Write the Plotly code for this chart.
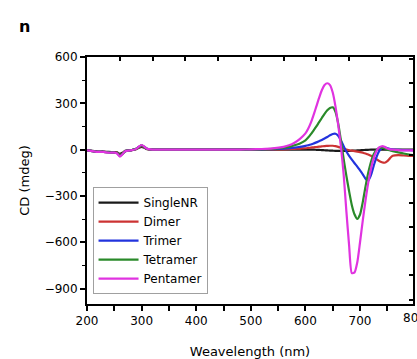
import plotly.graph_objects as go

# Wavelength grid (nm) shared by all spectra
wavelength = [200, 210, 220, 230, 240, 250, 255, 260, 265, 270, 280, 290, 295, 300, 305, 310, 320,
              340, 360, 380, 400, 420, 440, 460, 480, 500, 520, 540,
              560, 570, 580, 590,
              600, 605, 610, 615, 620, 625, 630, 635, 640, 645, 650, 655, 660, 665, 670, 675, 680,
              685, 690, 695, 700, 705, 710, 715, 720, 725, 730, 735, 740, 745, 750, 755, 760,
              770, 780, 790, 797]

# CD signal (mdeg) for each assembly
single_nr = [-3, -8, -12, -12, -15, -16, -18, -28, -20, -8, -4, 3, 12, 18, 12, 3, 0,
             0, 0, 0, 0, 0, 0, 0, 0, 0, 0, 0,
             0, 0, 0, 0,
             0, 0, 0, 0, -1, -2, -3, -4, -5, -6, -7, -8, -8, -8, -8, -8, -8,
             -7, -6, -5, -4, -3, -2, -1, 0, 0, 0, 0, 0, 0, 0, 0, 0,
             0, 0, 0, 0]
dimer = [-5, -10, -14, -14, -17, -19, -20, -35, -25, -10, -5, 4, 15, 22, 15, 4, 0,
         0, 0, 0, 0, 0, 0, 0, 0, 0, 1, 2,
         2, 3, 5, 7,
         9, 11, 13, 15, 17, 19, 21, 23, 24, 25, 25, 23, 18, 12, 6, 0, -4,
         -7, -10, -13, -16, -20, -25, -32, -40, -50, -62, -74, -82, -85, -75, -55, -40,
         -35, -38, -40, -40]
trimer = [-5, -10, -15, -15, -18, -20, -22, -38, -28, -10, -5, 5, 18, 26, 18, 5, 0,
          0, 0, 0, 0, 0, 0, 0, 0, 1, 2, 3,
          6, 9, 13, 18,
          24, 28, 33, 40, 47, 55, 63, 72, 82, 93, 101, 103, 90, 60, 22, -12, -40,
          -65, -88, -110, -135, -160, -188, -200, -165, -105, -50, -10, 10, 15, 10, 4, 0,
          -2, -3, -4, -5]
tetramer = [-5, -10, -15, -15, -18, -20, -22, -40, -28, -10, -5, 5, 18, 28, 18, 5, 0,
            0, 0, 0, 0, 0, 0, 0, 0, 1, 3, 5,
            12, 18, 28, 40,
            60, 78, 100, 125, 150, 178, 205, 232, 255, 270, 274, 245, 170, 60, -60, -170, -270,
            -360, -420, -448, -420, -340, -240, -150, -80, -30, -3, 10, 13, 8, 0, -5, -10,
            -18, -25, -32, -35]
pentamer = [-5, -10, -15, -15, -20, -20, -25, -45, -30, -10, -5, 5, 20, 30, 20, 5, 0,
            0, 0, 0, 0, 0, 0, 0, 0, 2, 4, 8,
            18, 28, 45, 70,
            105, 135, 175, 225, 280, 335, 385, 418, 430, 418, 370, 280, 160, 20, -160, -400, -620,
            -800, -795, -730, -600, -460, -330, -215, -125, -55, -10, 14, 22, 18, 8, 2, 0,
            -3, -5, -5, -5]

series_names = ["SingleNR", "Dimer", "Trimer", "Tetramer", "Pentamer"]
series_values = [single_nr, dimer, trimer, tetramer, pentamer]
series_colors = ["#1a1a1a", "#cc3333", "#2233dd", "#2a8a2a", "#e033e0"]

y_ticks = [600, 300, 0, -300, -600, -900]
x_ticks = [200, 300, 400, 500, 600, 700]

FONT = "DejaVu Sans"

# Plot-area geometry in pixels
W, H = 417, 359
L, R, T, B = 87, 4, 57, 55
PW, PH = W - L - R, H - T - B
X_MIN, X_MAX = 200, 797

fig = go.Figure()
for name, vals, col in zip(series_names, series_values, series_colors):
    fig.add_trace(go.Scatter(x=wavelength, y=vals, name=name, mode="lines",
                             line=dict(color=col, width=2.2, shape="spline", smoothing=0.6)))

# Extra trace only to carry the unlabelled top/right tick axes
fig.add_trace(go.Scatter(x=[wavelength[0]], y=[0], xaxis="x2", yaxis="y2",
                         mode="markers", marker=dict(opacity=0), showlegend=False, hoverinfo="skip"))

fig.update_layout(
    width=W, height=H,
    margin=dict(l=L, r=R, t=T, b=B, autoexpand=False),
    paper_bgcolor="white", plot_bgcolor="white",
    font=dict(family=FONT, size=12, color="black"),
    showlegend=True,
    legend=dict(x=0.017, y=0.04, xanchor="left", yanchor="bottom",
                bgcolor="white", bordercolor="#a0a0a0", borderwidth=1,
                font=dict(family=FONT, size=12), tracegroupgap=0,
                itemwidth=40),
    xaxis=dict(range=[X_MIN, X_MAX], tickmode="array", tickvals=x_ticks, automargin=False,
               ticks="outside", ticklen=5, tickwidth=1.5, tickcolor="black",
               minor=dict(dtick=50, tick0=200, ticks="outside", ticklen=5, tickwidth=1.5, tickcolor="black"),
               showline=True, linewidth=2, linecolor="black", showgrid=False, zeroline=False,
               tickfont=dict(family=FONT, size=12),
               title=dict(text="Weavelength (nm)", font=dict(family=FONT, size=13), standoff=23)),
    yaxis=dict(range=[-1000, 600], tickmode="array", tickvals=y_ticks, automargin=False,
               ticktext=[str(v).replace("-", "\u2212") for v in y_ticks],
               ticks="outside", ticklen=5, tickwidth=1.5, tickcolor="black",
               minor=dict(dtick=150, tick0=0, ticks="outside", ticklen=3, tickwidth=1.2, tickcolor="black"),
               showline=True, linewidth=2, linecolor="black", showgrid=False, zeroline=False,
               tickfont=dict(family=FONT, size=12),
               title=dict(text="CD (mdeg)", font=dict(family=FONT, size=13), standoff=12)),
    xaxis2=dict(overlaying="x", side="top", range=[X_MIN, X_MAX], tick0=200, dtick=60,
                ticks="inside", ticklen=4, tickwidth=1.5, tickcolor="black", automargin=False,
                showticklabels=False, showline=True, linewidth=2, linecolor="black",
                showgrid=False, zeroline=False),
    yaxis2=dict(overlaying="y", side="right", range=[-1000, 600], tick0=-35, dtick=156,
                ticks="inside", ticklen=4, tickwidth=1.5, tickcolor="black", automargin=False,
                showticklabels=False, showline=True, linewidth=1.5, linecolor="black",
                showgrid=False, zeroline=False),
    annotations=[
        # panel letter
        dict(text="<b>n</b>", x=(25 - L) / PW, y=1 + (T - 27) / PH, xref="paper", yref="paper",
             xanchor="center", yanchor="middle", showarrow=False, font=dict(family=FONT, size=16)),
        # last x tick label, just past the plotted range
        dict(text="800", x=(800 - X_MIN) / (X_MAX - X_MIN), y=0, xref="paper", yref="paper",
             xanchor="center", yanchor="top", yshift=-5, showarrow=False,
             font=dict(family=FONT, size=12)),
    ],
)

fig.write_html("out.html")
